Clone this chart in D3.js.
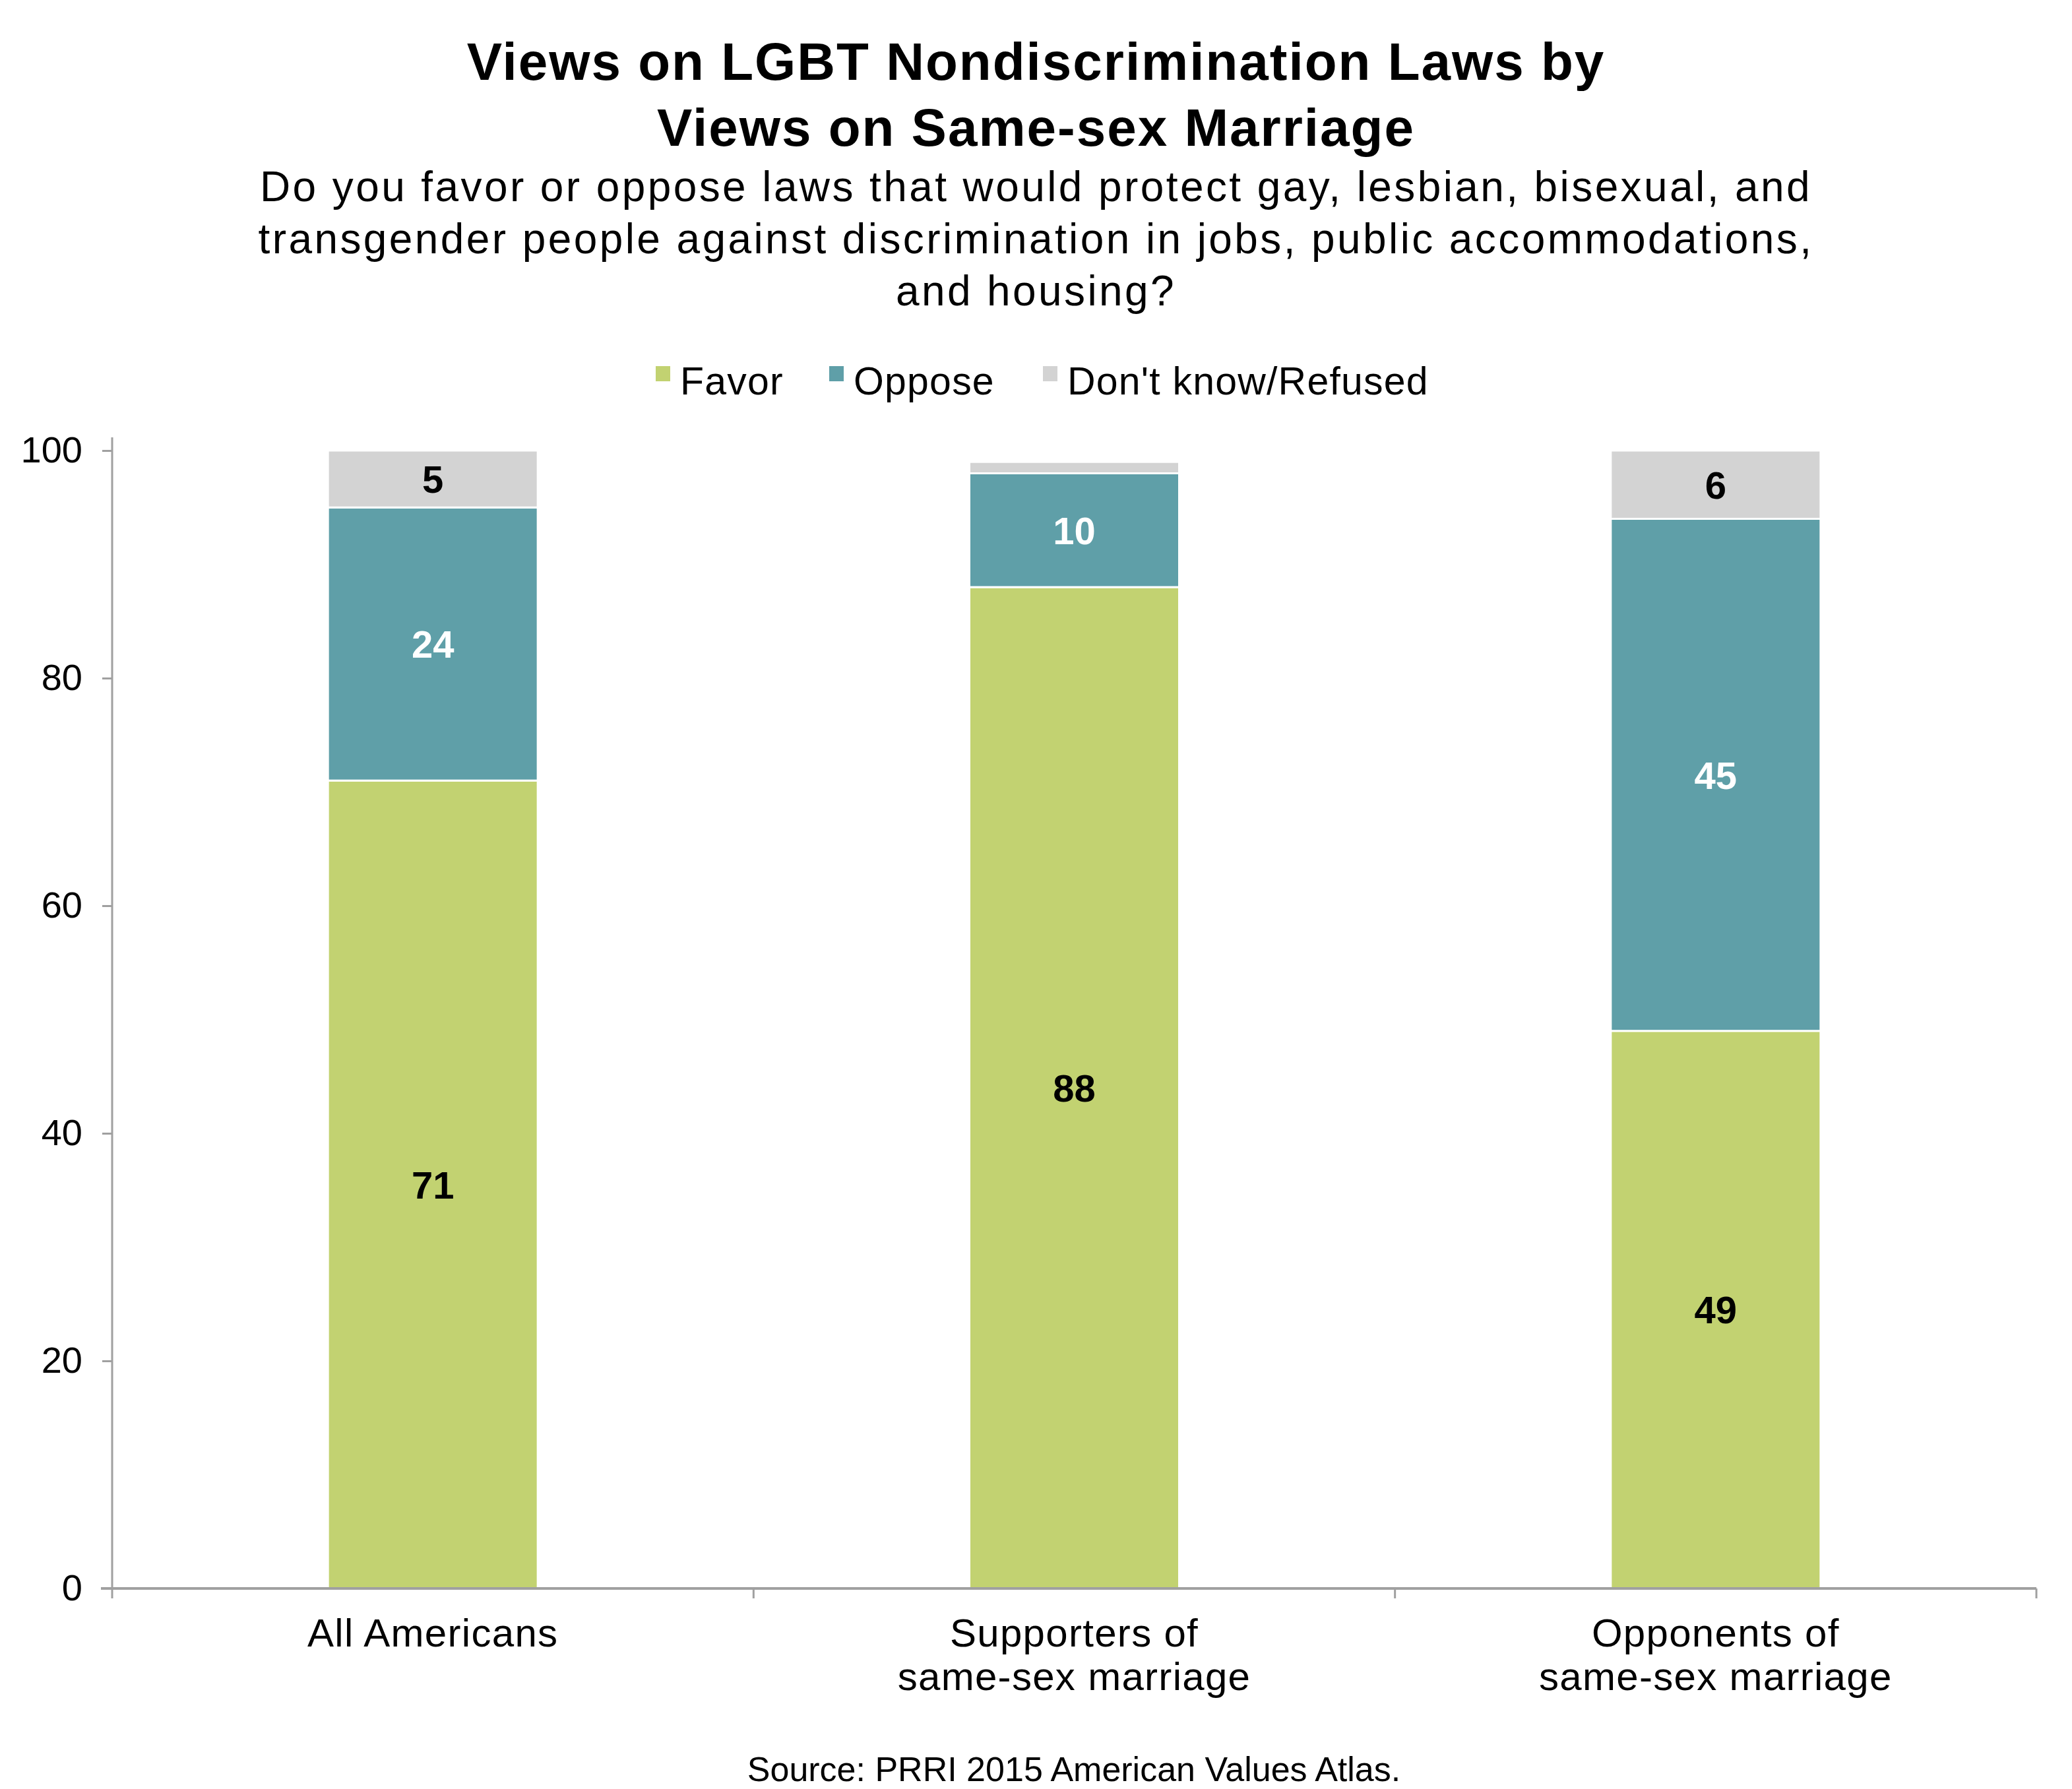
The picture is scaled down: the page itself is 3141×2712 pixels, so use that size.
<!DOCTYPE html>
<html>
<head>
<meta charset="utf-8">
<script src="https://cdn.jsdelivr.net/npm/d3@7"></script>
<style>
  html, body { margin: 0; padding: 0; background: #fff; }
  svg { display: block; }
  text { font-family: "Liberation Sans", Arial, Helvetica, sans-serif; }
</style>
</head>
<body>
<svg id="chart" width="3141" height="2712"></svg>
<script>
const categories = [["All Americans"], ["Supporters of", "same-sex marriage"], ["Opponents of", "same-sex marriage"]];
const seriesNames = ["Favor", "Oppose", "Don't know/Refused"];
const favor = [71, 88, 49];
const oppose = [24, 10, 45];
const dontKnow = [5, 1, 6];
const showLabel = [[true, true, true], [true, true, false], [true, true, true]];
const yTicks = [0, 20, 40, 60, 80, 100];
const titleLines = ["Views on LGBT Nondiscrimination Laws by", "Views on Same-sex Marriage"];
const subtitleLines = ["Do you favor or oppose laws that would protect gay, lesbian, bisexual, and",
  "transgender people against discrimination in jobs, public accommodations,",
  "and housing?"];
const sourceText = "Source: PRRI 2015 American Values Atlas.";

const colors = ["#c2d271", "#5f9fa8", "#d3d3d3"];
const labelColors = ["#000", "#fff", "#000"];
const axisColor = "#a0a0a0";

const svg = d3.select("#chart");
const W = 3141;

const x0 = 170, x1 = 3087, yTop = 683, yBottom = 2408;
const x = d3.scaleBand().domain(d3.range(categories.length)).range([x0, x1]).paddingInner(0).paddingOuter(0);
const y = d3.scaleLinear().domain([0, 100]).range([yBottom, yTop]);
const barW = 318;

// Title
svg.append("g").selectAll("text").data(titleLines).join("text")
  .attr("x", W / 2).attr("y", (d, i) => 121 + i * 100)
  .attr("text-anchor", "middle").attr("font-weight", "bold").attr("font-size", 80)
  .attr("letter-spacing", 2)
  .attr("fill", "#000").text(d => d);

svg.append("g").selectAll("text").data(subtitleLines).join("text")
  .attr("x", W / 2).attr("y", (d, i) => 305 + i * 79)
  .attr("text-anchor", "middle").attr("font-size", 64)
  .attr("letter-spacing", 3.4)
  .attr("fill", "#000").text(d => d);

// Legend
const legendX = [994, 1257, 1581];
const leg = svg.append("g").selectAll("g").data(seriesNames).join("g")
  .attr("transform", (d, i) => `translate(${legendX[i]},0)`);
leg.append("rect").attr("x", 0).attr("y", 555).attr("width", 22).attr("height", 23)
  .attr("fill", (d, i) => colors[i]);
leg.append("text").attr("x", 37).attr("y", 598).attr("font-size", 59).attr("letter-spacing", 1.2)
  .attr("fill", "#000").text(d => d);

// Stack
const rows = categories.map((c, i) => ({ i, Favor: favor[i], Oppose: oppose[i], DK: dontKnow[i] }));
const stack = d3.stack().keys(["Favor", "Oppose", "DK"])(rows);

const gBars = svg.append("g");
stack.forEach((layer, si) => {
  gBars.append("g").selectAll("rect").data(layer).join("rect")
    .attr("x", d => x(d.data.i) + x.bandwidth() / 2 - barW / 2)
    .attr("width", barW)
    .attr("y", d => y(d[1]))
    .attr("height", d => y(d[0]) - y(d[1]))
    .attr("fill", colors[si])
    .attr("stroke", "#fff").attr("stroke-width", 3);
});

// Axes
const yAxis = d3.axisLeft(y).tickValues(yTicks).tickSize(15).tickPadding(30);
const gy = svg.append("g").attr("transform", `translate(${x0},0)`).call(yAxis);
gy.select(".domain").attr("stroke", axisColor).attr("stroke-width", 3)
  .attr("d", `M-0,${yBottom}V${yTop - 20}`);
gy.selectAll(".tick line").attr("stroke", axisColor).attr("stroke-width", 3);
gy.selectAll(".tick text").attr("font-size", 56).attr("fill", "#000")
  .attr("font-family", "'Liberation Sans', Arial, sans-serif");

const xTickPos = d3.range(categories.length + 1).map(i => x0 + i * x.bandwidth());
const gx = svg.append("g");
gx.append("line").attr("x1", x0 - 17).attr("x2", x1).attr("y1", yBottom).attr("y2", yBottom)
  .attr("stroke", axisColor).attr("stroke-width", 4);
gx.selectAll("line.t").data(xTickPos).join("line").attr("class", "t")
  .attr("x1", d => d).attr("x2", d => d).attr("y1", yBottom).attr("y2", yBottom + 15)
  .attr("stroke", axisColor).attr("stroke-width", 3);

// Category labels
const cat = svg.append("g").selectAll("text").data(categories).join("text")
  .attr("text-anchor", "middle").attr("font-size", 60).attr("fill", "#000")
  .attr("letter-spacing", 1.3)
  .attr("transform", (d, i) => `translate(${x(i) + x.bandwidth() / 2},0)`);
cat.selectAll("tspan").data(d => d).join("tspan")
  .attr("x", 0).attr("y", (d, j) => 2496 + j * 66).text(d => d);

// Data labels
stack.forEach((layer, si) => {
  svg.append("g").selectAll("text").data(layer.filter(d => showLabel[d.data.i][si])).join("text")
    .attr("x", d => x(d.data.i) + x.bandwidth() / 2)
    .attr("y", d => (y(d[0]) + y(d[1])) / 2 + 21)
    .attr("text-anchor", "middle").attr("font-weight", "bold").attr("font-size", 58)
    .attr("fill", labelColors[si]).text(d => d[1] - d[0]);
});

// Source
svg.append("text").attr("x", 1628).attr("y", 2700).attr("text-anchor", "middle")
  .attr("font-size", 52).attr("fill", "#000").text(sourceText);
</script>
</body>
</html>
